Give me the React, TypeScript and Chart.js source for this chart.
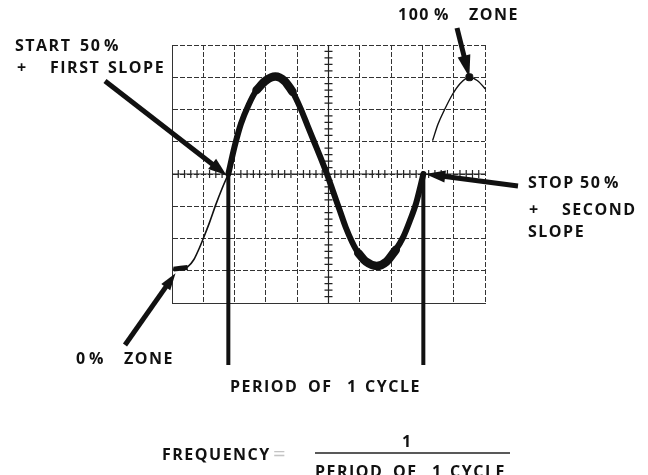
import React, { useEffect, useRef } from "react";
import { Chart, registerables } from "chart.js";

Chart.register(...registerables);

// Oscilloscope trace, in screen divisions (x: 0..10, y: -4..4)
const leftX = [0.05, 0.3, 0.5, 0.7, 0.85, 1.0, 1.2, 1.4, 1.6, 1.8];
const leftY = [-2.95, -2.95, -2.88, -2.65, -2.35, -2.0, -1.5, -0.95, -0.45, 0];

const cycleX = [1.8, 2.0, 2.2, 2.45, 2.7, 3.0, 3.3, 3.6, 3.85, 4.1, 4.33, 4.54, 4.75, 4.95, 5.15, 5.35, 5.55, 5.75, 5.95, 6.2, 6.54, 6.85, 7.15, 7.39, 7.6, 7.8, 7.92, 8.03];
const cycleY = [0, 0.85, 1.55, 2.15, 2.6, 2.9, 3.02, 2.88, 2.55, 2.05, 1.5, 1.0, 0.5, 0, -0.55, -1.1, -1.65, -2.1, -2.45, -2.72, -2.85, -2.72, -2.35, -1.95, -1.45, -0.9, -0.45, 0];

const rightX = [8.33, 8.5, 8.71, 8.95, 9.2, 9.5, 9.75, 10.0, 10.2];
const rightY = [1.05, 1.55, 2.0, 2.45, 2.8, 3.0, 2.9, 2.65, 2.4];

const zeroZoneX = [0.05, 0.5];
const zeroZoneY = [-2.95, -2.9];
const fullZoneX = [9.5];
const fullZoneY = [3.0];

// ranges (in divisions) where the beam lingers and the trace is brightest
const peakRange = [2.7, 3.85];
const troughRange = [5.95, 7.15];

const startX = 1.8;
const stopX = 8.03;
const xTicks = [0, 10];
const yTicks = [-4, 4];

const pts = (xs: number[], ys: number[]) => xs.map((x, i) => ({ x, y: ys[i] }));
const ptsIn = (xs: number[], ys: number[], r: number[]) => pts(xs, ys).filter((p) => p.x >= r[0] && p.x <= r[1]);

const INK = "#111";

function arrow(ctx: CanvasRenderingContext2D, x1: number, y1: number, x2: number, y2: number, lw: number, hl: number, hw: number) {
  const a = Math.atan2(y2 - y1, x2 - x1);
  const c = Math.cos(a), s = Math.sin(a);
  const bx = x2 - hl * c, by = y2 - hl * s;
  ctx.save();
  ctx.strokeStyle = INK;
  ctx.fillStyle = INK;
  ctx.lineWidth = lw;
  ctx.lineCap = "butt";
  ctx.beginPath();
  ctx.moveTo(x1, y1);
  ctx.lineTo(bx + c * 2, by + s * 2);
  ctx.stroke();
  ctx.beginPath();
  ctx.moveTo(x2, y2);
  ctx.lineTo(bx - (hw / 2) * s, by + (hw / 2) * c);
  ctx.lineTo(bx + (hw / 2) * s, by - (hw / 2) * c);
  ctx.closePath();
  ctx.fill();
  ctx.restore();
}

const scopePlugin = {
  id: "scope",
  beforeDatasetsDraw(chart: any) {
    const { ctx, scales } = chart;
    const xs = scales.x, ys = scales.y;
    const cx = xs.getPixelForValue(5);
    const cy = ys.getPixelForValue(0);
    ctx.save();
    ctx.strokeStyle = "#222";
    ctx.lineWidth = 1.2;
    ctx.beginPath();
    ctx.moveTo(xs.left, cy);
    ctx.lineTo(xs.right, cy);
    ctx.moveTo(cx, ys.top);
    ctx.lineTo(cx, ys.bottom);
    ctx.stroke();
    ctx.lineWidth = 1.2;
    ctx.beginPath();
    for (let i = 1; i < 50; i++) {
      if (i % 5 === 0) continue;
      const px = xs.getPixelForValue(i / 5);
      ctx.moveTo(px, cy - 4);
      ctx.lineTo(px, cy + 4);
    }
    for (let i = 1; i < 40; i++) {
      if (i % 5 === 0) continue;
      const py = ys.getPixelForValue(-4 + i / 5);
      ctx.moveTo(cx - 4, py);
      ctx.lineTo(cx + 4, py);
    }
    ctx.stroke();
    ctx.restore();
  },
  afterDraw(chart: any) {
    const { ctx, scales } = chart;
    const xs = scales.x, ys = scales.y;
    const px = (v: number) => xs.getPixelForValue(v);
    const py = (v: number) => ys.getPixelForValue(v);

    // period markers
    ctx.save();
    ctx.strokeStyle = INK;
    ctx.lineWidth = 4;
    ctx.beginPath();
    ctx.moveTo(px(startX), py(0));
    ctx.lineTo(px(startX), 365);
    ctx.moveTo(px(stopX), py(0));
    ctx.lineTo(px(stopX), 365);
    ctx.stroke();
    ctx.restore();

    // arrows
    arrow(ctx, 105, 81, px(startX) - 2, py(0) + 1, 5, 18, 13);
    arrow(ctx, 457, 28, px(fullZoneX[0]), py(fullZoneY[0]), 5, 22, 13);
    arrow(ctx, 518, 186, px(stopX) + 2, py(0), 5, 20, 12);
    arrow(ctx, 125, 345, px(zeroZoneX[0]) + 2, py(zeroZoneY[0]) + 4, 5, 17, 11);

    // texts
    ctx.save();
    ctx.fillStyle = INK;
    ctx.textBaseline = "alphabetic";
    ctx.textAlign = "left";
    ctx.font = "bold 16px 'Open Sans'";
    (ctx as any).letterSpacing = "1.5px";
    const words: [string, number, number][] = [
      ["START", 15, 51], ["50", 80, 51], ["%", 104, 51],
      ["+", 17, 73], ["FIRST", 50, 73], ["SLOPE", 108, 73],
      ["100", 398, 20], ["%", 434, 20], ["ZONE", 469, 20],
      ["STOP", 528, 188], ["50", 580, 188], ["%", 604, 188],
      ["+", 529, 215], ["SECOND", 562, 215],
      ["SLOPE", 528, 237],
      ["0", 76, 364], ["%", 89, 364], ["ZONE", 124, 364],
      ["PERIOD", 230, 392], ["OF", 308, 392], ["1", 347, 392], ["CYCLE", 365, 392],
      ["FREQUENCY", 162, 460],
      ["1", 402, 447],
      ["PERIOD", 315, 477], ["OF", 393, 477], ["1", 432, 477], ["CYCLE", 450, 477],
    ];
    for (const [t, x, y] of words) ctx.fillText(t, x, y);
    ctx.fillStyle = "#c4c4c4";
    ctx.font = "22px 'Open Sans'";
    (ctx as any).letterSpacing = "0px";
    ctx.fillText("=", 273, 461);
    ctx.restore();

    // fraction bar
    ctx.save();
    ctx.strokeStyle = "#222";
    ctx.lineWidth = 1.5;
    ctx.beginPath();
    ctx.moveTo(315, 453);
    ctx.lineTo(510, 453);
    ctx.stroke();
    ctx.restore();
  },
};

export default function App() {
  const ref = useRef<HTMLCanvasElement | null>(null);
  useEffect(() => {
    document.body.style.margin = "0";
    const canvas = ref.current!;
    const common = { borderColor: INK, pointRadius: 0, cubicInterpolationMode: "monotone", clip: false, borderCapStyle: "round", borderJoinStyle: "round" };
    const chart = new Chart(canvas, {
      type: "line",
      data: {
        datasets: [
          { ...common, data: pts(leftX, leftY), borderWidth: 1.6 },
          { ...common, data: pts(cycleX, cycleY), borderWidth: 6 },
          { ...common, data: ptsIn(cycleX, cycleY, peakRange), borderWidth: 8.5 },
          { ...common, data: ptsIn(cycleX, cycleY, troughRange), borderWidth: 8.5 },
          { ...common, data: pts(rightX, rightY), borderWidth: 1.4 },
          { ...common, data: pts(zeroZoneX, zeroZoneY), borderWidth: 5, borderCapStyle: "butt" },
          { data: pts(fullZoneX, fullZoneY), borderColor: INK, backgroundColor: INK, pointRadius: 4, pointStyle: "rectRounded", showLine: false, clip: false },
        ] as any,
      },
      options: {
        responsive: false,
        maintainAspectRatio: false,
        animation: false,
        events: [],
        layout: { padding: { left: 172, right: 163, top: 45, bottom: 172 } },
        plugins: { legend: { display: false }, tooltip: { enabled: false } },
        scales: {
          x: {
            type: "linear", min: xTicks[0], max: xTicks[1],
            ticks: { display: false, stepSize: 1 },
            grid: { color: "#333", lineWidth: 1, drawTicks: false },
            border: { display: true, color: "#333", width: 1, dash: [5, 2] },
          },
          y: {
            type: "linear", min: yTicks[0], max: yTicks[1],
            ticks: { display: false, stepSize: 1 },
            grid: { color: "#333", lineWidth: 1, drawTicks: false },
            border: { display: true, color: "#333", width: 1, dash: [5, 2] },
          },
        },
      },
      plugins: [scopePlugin],
    } as any);
    return () => chart.destroy();
  }, []);
  return <canvas ref={ref} width={648} height={475} style={{ display: "block", width: 648, height: 475 }} />;
}
